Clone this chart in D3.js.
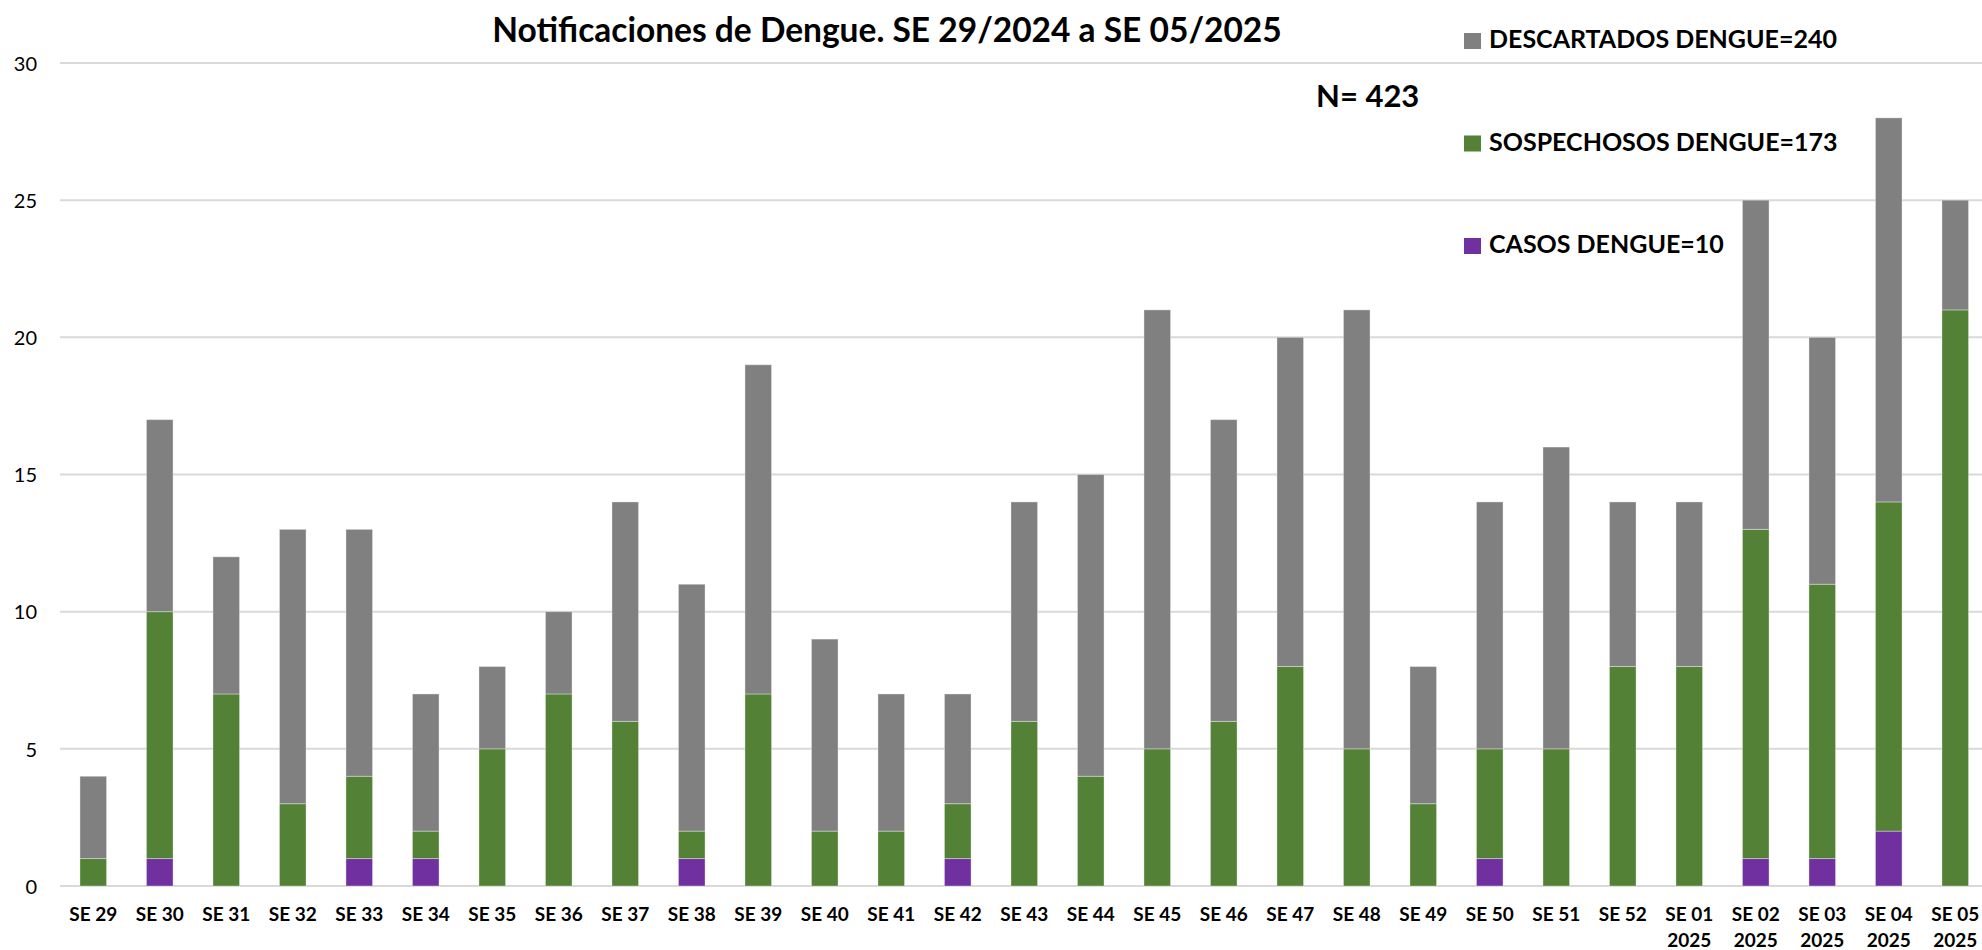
<!DOCTYPE html>
<html>
<head>
<meta charset="utf-8">
<script src="https://cdn.jsdelivr.net/npm/d3@7"></script>
<style>
  body { margin: 0; background: #fff; }
  svg { font-family: Lato, "Open Sans", sans-serif; }
</style>
</head>
<body>
<svg id="chart" width="1982" height="950"></svg>
<script>
const weeks = ["SE 29", "SE 30", "SE 31", "SE 32", "SE 33", "SE 34", "SE 35", "SE 36", "SE 37", "SE 38",
    "SE 39", "SE 40", "SE 41", "SE 42", "SE 43", "SE 44", "SE 45", "SE 46", "SE 47", "SE 48",
    "SE 49", "SE 50", "SE 51", "SE 52", "SE 01 2025", "SE 02 2025", "SE 03 2025", "SE 04 2025", "SE 05 2025"];
const casos =       [0, 1, 0, 0, 1, 1, 0, 0, 0, 1, 0, 0, 0, 1, 0, 0, 0, 0, 0, 0, 0, 1, 0, 0, 0, 1, 1, 2, 0];
const sospechosos = [1, 9, 7, 3, 3, 1, 5, 7, 6, 1, 7, 2, 2, 2, 6, 4, 5, 6, 8, 5, 3, 4, 5, 8, 8, 12, 10, 12, 21];
const descartados = [3, 7, 5, 10, 9, 5, 3, 3, 8, 9, 12, 7, 5, 4, 8, 11, 16, 11, 12, 16, 5, 9, 11, 6, 6, 12, 9, 14, 4];
const yTicks = [0, 5, 10, 15, 20, 25, 30];

const seriesKeys = ["casos", "sospechosos", "descartados"];
const colors = { casos: "#7030a0", sospechosos: "#538135", descartados: "#808080" };
const legendItems = [
    { key: "descartados", label: "DESCARTADOS DENGUE=240" },
    { key: "sospechosos", label: "SOSPECHOSOS DENGUE=173" },
    { key: "casos", label: "CASOS DENGUE=10" },
];

const table = weeks.map((w, i) => ({
    week: w,
    casos: casos[i],
    sospechosos: sospechosos[i],
    descartados: descartados[i],
}));

const svg = d3.select("#chart");

const x = d3.scaleBand().domain(weeks).range([60, 1988.5]).padding(0);
const y = d3.scaleLinear().domain([0, 30]).range([886, 63]);
const barW = x.step() * 0.4;

// grid
svg.append("g")
    .selectAll("line")
    .data(yTicks)
    .enter()
    .append("line")
    .attr("x1", 60)
    .attr("x2", 1982)
    .attr("y1", (d) => y(d))
    .attr("y2", (d) => y(d))
    .attr("stroke", "#d9d9d9")
    .attr("stroke-width", 2);

const yAxis = svg.append("g")
    .attr("transform", "translate(37,0)")
    .call(d3.axisLeft(y).tickValues(yTicks).tickSize(0).tickPadding(0));
yAxis.select(".domain").remove();
yAxis.selectAll("text")
    .attr("font-family", "Lato, sans-serif")
    .attr("font-size", 20)
    .attr("fill", "#000")
    .attr("dy", "0.36em");

// stacked bars
const stack = d3.stack().keys(seriesKeys)(table);
svg.append("g")
    .selectAll("g")
    .data(stack)
    .enter()
    .append("g")
    .attr("fill", (d) => colors[d.key])
    .selectAll("rect")
    .data((d) => d.filter((p) => p[1] > p[0]))
    .enter()
    .append("rect")
    .attr("x", (d) => x(d.data.week) + (x.step() - barW) / 2)
    .attr("width", barW)
    .attr("y", (d) => y(d[1]))
    .attr("height", (d) => y(d[0]) - y(d[1]))
    .attr("stroke", "rgba(255,255,255,0.35)")
    .attr("stroke-width", 1);

// x labels
const xLab = svg.append("g")
    .selectAll("text")
    .data(weeks)
    .enter()
    .append("text")
    .attr("x", (d) => x(d) + x.step() / 2)
    .attr("y", 921)
    .attr("text-anchor", "middle")
    .attr("font-size", 19)
    .attr("font-weight", "bold")
    .attr("fill", "#000");
xLab.each(function (d) {
    const parts = d.split(" ");
    const t = d3.select(this);
    t.append("tspan").attr("x", x(d) + x.step() / 2).text(parts[0] + " " + parts[1]);
    if (parts[2]) {
        t.append("tspan").attr("x", x(d) + x.step() / 2).attr("dy", 26).text(parts[2]);
    }
});

// title
svg.append("text")
    .attr("x", 887)
    .attr("y", 42)
    .attr("text-anchor", "middle")
    .attr("font-size", 33.5)
    .attr("font-weight", "bold")
    .text("Notificaciones de Dengue. SE 29/2024 a SE 05/2025");

svg.append("text")
    .attr("x", 1316)
    .attr("y", 107)
    .attr("font-size", 31)
    .attr("font-weight", "bold")
    .text("N= 423");

// legend
const legend = svg.append("g")
    .selectAll("g")
    .data(legendItems)
    .enter()
    .append("g")
    .attr("transform", (d, i) => `translate(1464,${33 + i * 102.5})`);
legend.append("rect")
    .attr("width", 17)
    .attr("height", 16)
    .attr("fill", (d) => colors[d.key]);
legend.append("text")
    .attr("x", 25)
    .attr("y", 15)
    .attr("font-size", 25)
    .attr("font-weight", "bold")
    .text((d) => d.label);
</script>
</body>
</html>
